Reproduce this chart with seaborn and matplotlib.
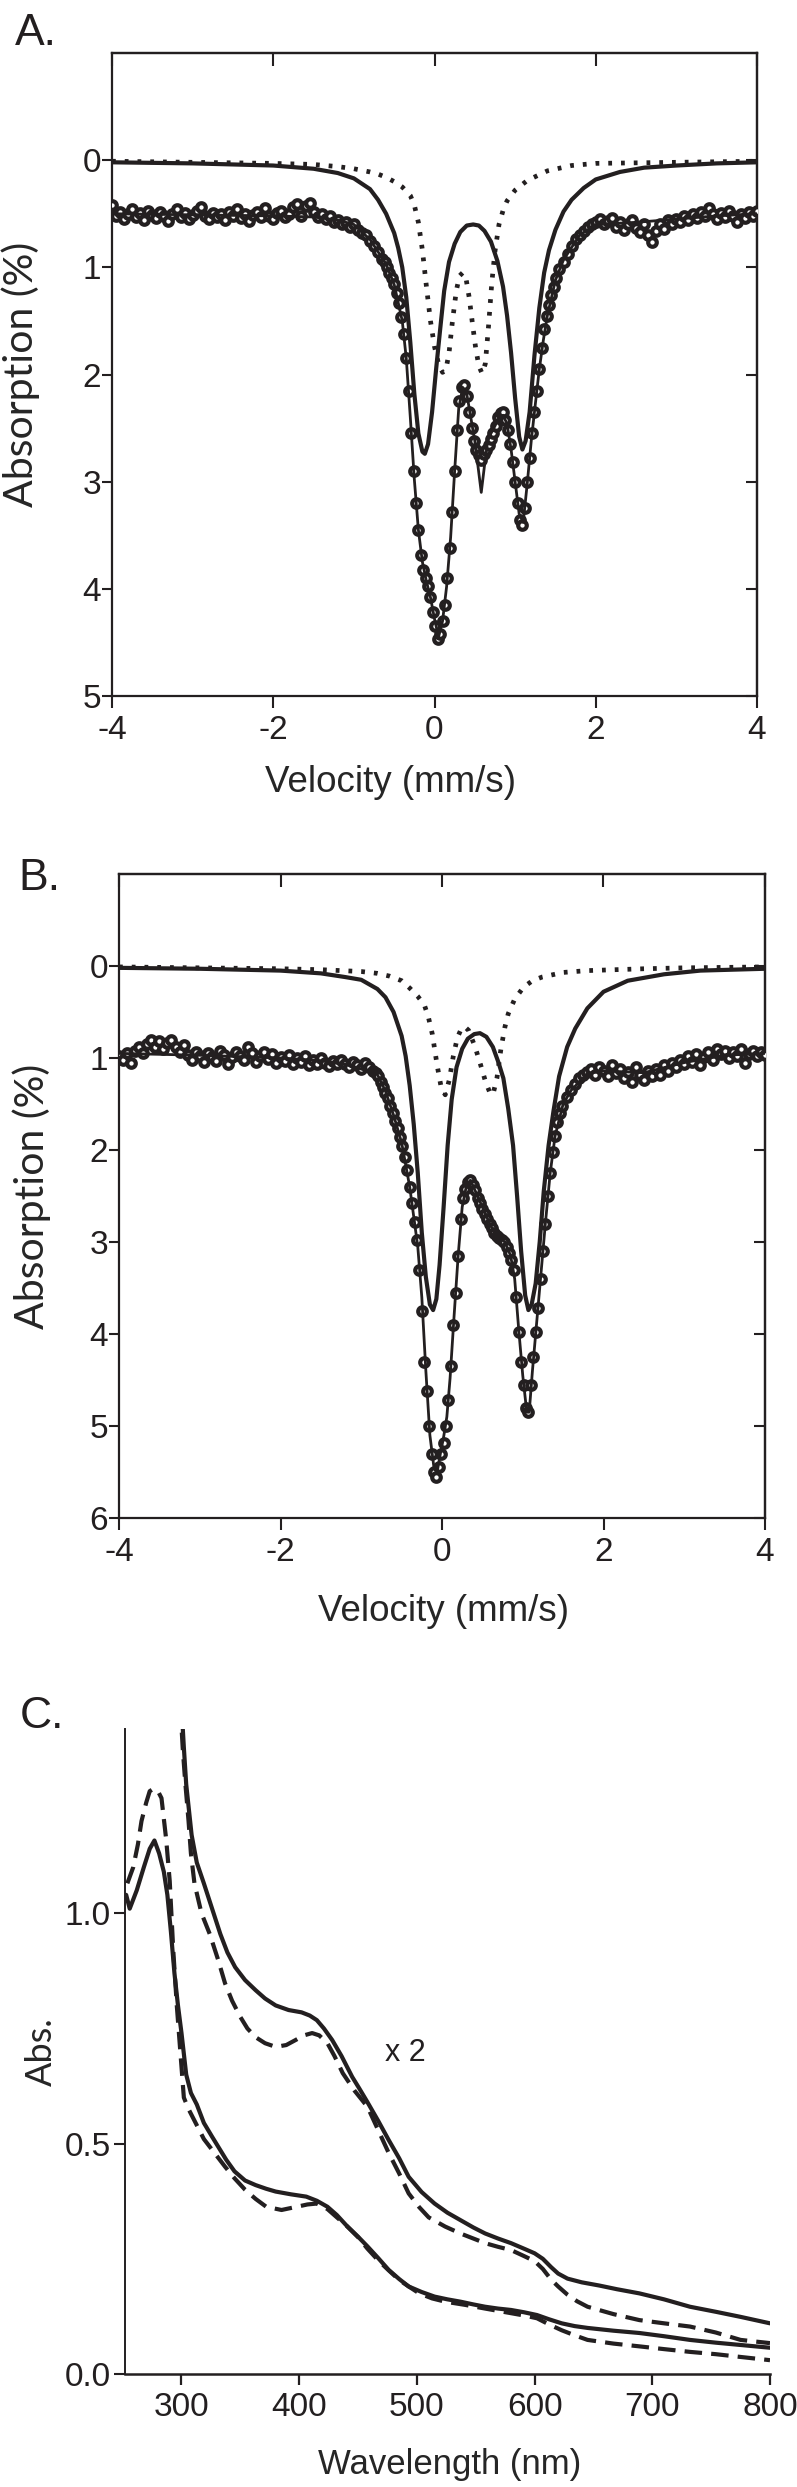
import numpy as np
import pandas as pd
import matplotlib
matplotlib.use("Agg")
import matplotlib.pyplot as plt
import seaborn as sns

# ---------------- Panel A data (Mossbauer) ----------------
vel_A = [-4.00, -3.95, -3.90, -3.85, -3.80, -3.75, -3.70, -3.65, -3.60, -3.55, -3.50, -3.45, -3.40, -3.35,
         -3.30, -3.25, -3.20, -3.15, -3.10, -3.05, -3.00, -2.95, -2.90, -2.85, -2.80, -2.75, -2.70, -2.65,
         -2.60, -2.55, -2.50, -2.45, -2.40, -2.35, -2.30, -2.25, -2.20, -2.15, -2.10, -2.05, -2.00, -1.95,
         -1.90, -1.85, -1.80, -1.75, -1.70, -1.65, -1.60, -1.55, -1.50, -1.45, -1.40, -1.35, -1.30, -1.25,
         -1.20, -1.15, -1.10, -1.05, -1.00, -0.95, -0.90, -0.85, -0.80, -0.75, -0.70, -0.65,
         -0.62, -0.59, -0.56, -0.53, -0.50, -0.47, -0.44, -0.41, -0.38, -0.35, -0.32, -0.29, -0.26, -0.23,
         -0.20, -0.17, -0.14, -0.11, -0.08, -0.05, -0.02, 0.01, 0.04, 0.07, 0.10, 0.13, 0.16, 0.19, 0.22,
         0.25, 0.28, 0.31, 0.34, 0.37, 0.40, 0.43, 0.46, 0.49, 0.52, 0.55, 0.58, 0.61, 0.64, 0.67, 0.70,
         0.73, 0.76, 0.79, 0.82, 0.85, 0.88, 0.91, 0.94, 0.97, 1.00, 1.03, 1.06, 1.09, 1.12, 1.15, 1.18,
         1.21, 1.24, 1.27, 1.30, 1.33, 1.36, 1.39, 1.42, 1.45, 1.48, 1.51,
         1.55, 1.60, 1.65, 1.70, 1.75, 1.80, 1.85, 1.90, 1.95, 2.00, 2.05, 2.10, 2.15, 2.20, 2.25, 2.30,
         2.35, 2.40, 2.45, 2.50, 2.55, 2.60, 2.65, 2.70, 2.75, 2.80, 2.85, 2.90, 2.95, 3.00, 3.05, 3.10,
         3.15, 3.20, 3.25, 3.30, 3.35, 3.40, 3.45, 3.50, 3.55, 3.60, 3.65, 3.70, 3.75, 3.80, 3.85, 3.90,
         3.95, 4.00]
abs_A = [0.42, 0.52, 0.48, 0.55, 0.50, 0.46, 0.53, 0.49, 0.56, 0.47, 0.51, 0.54, 0.48, 0.52,
         0.57, 0.50, 0.46, 0.53, 0.49, 0.55, 0.51, 0.47, 0.44, 0.52, 0.55, 0.49, 0.53, 0.50,
         0.56, 0.48, 0.52, 0.46, 0.54, 0.50, 0.57, 0.51, 0.48, 0.53, 0.45, 0.52, 0.55, 0.49,
         0.47, 0.53, 0.50, 0.44, 0.41, 0.52, 0.43, 0.40, 0.48, 0.53, 0.50, 0.55, 0.52, 0.58,
         0.56, 0.60, 0.58, 0.62, 0.60, 0.65, 0.68, 0.70, 0.75, 0.80, 0.86, 0.92,
         0.95, 1.00, 1.05, 1.10, 1.16, 1.24, 1.33, 1.46, 1.62, 1.85, 2.15, 2.55, 2.90, 3.20,
         3.45, 3.68, 3.82, 3.90, 3.97, 4.08, 4.22, 4.35, 4.47, 4.42, 4.30, 4.15, 3.90, 3.62, 3.28,
         2.90, 2.52, 2.25, 2.12, 2.10, 2.20, 2.35, 2.50, 2.62, 2.70, 2.75, 2.80, 2.74, 2.70, 2.66, 2.60,
         2.55, 2.48, 2.40, 2.36, 2.35, 2.42, 2.52, 2.65, 2.82, 3.00, 3.20, 3.36, 3.40, 3.25, 3.00, 2.78,
         2.55, 2.35, 2.15, 1.95, 1.75, 1.58, 1.45, 1.35, 1.26, 1.18, 1.10,
         1.02, 0.95, 0.88, 0.80, 0.74, 0.70, 0.66, 0.62, 0.60, 0.58, 0.55, 0.60, 0.57, 0.54, 0.62, 0.58,
         0.65, 0.60, 0.56, 0.63, 0.67, 0.60, 0.70, 0.76, 0.66, 0.60, 0.64, 0.56, 0.60, 0.55, 0.58, 0.52,
         0.56, 0.50, 0.54, 0.48, 0.52, 0.45, 0.50, 0.55, 0.49, 0.53, 0.47, 0.52, 0.58, 0.50, 0.54, 0.48,
         0.52, 0.47]

fitv_A = [-4.0, -3.0, -2.0, -1.5, -1.2, -1.0, -0.8, -0.6, -0.5, -0.4, -0.35, -0.3, -0.25, -0.2, -0.15,
          -0.1, -0.05, 0.0, 0.05, 0.1, 0.15, 0.2, 0.25, 0.3, 0.35, 0.4, 0.45, 0.5, 0.55, 0.58, 0.62, 0.66,
          0.7, 0.75, 0.8, 0.85, 0.9, 0.95, 1.0, 1.05, 1.1, 1.15, 1.2, 1.25, 1.3, 1.35, 1.4, 1.5, 1.6, 1.8,
          2.0, 2.5, 3.0, 3.5, 4.0]
fita_A = [0.50, 0.51, 0.52, 0.53, 0.56, 0.60, 0.74, 0.97, 1.16, 1.50, 1.85, 2.40, 2.98, 3.45, 3.75,
          3.93, 4.08, 4.28, 4.45, 4.30, 3.98, 3.52, 2.90, 2.32, 2.12, 2.18, 2.40, 2.62, 2.92, 3.10, 2.85, 2.62,
          2.55, 2.48, 2.40, 2.38, 2.46, 2.70, 3.00, 3.30, 3.38, 3.02, 2.62, 2.28, 1.95, 1.68, 1.45, 1.12, 0.93, 0.70,
          0.60, 0.58, 0.55, 0.52, 0.50]

solv_A = [-4.0, -3.0, -2.0, -1.5, -1.2, -1.0, -0.8, -0.7, -0.6, -0.5, -0.45, -0.4, -0.35, -0.3, -0.25,
          -0.2, -0.15, -0.12, -0.08, -0.03, 0.02, 0.07, 0.12, 0.18, 0.25, 0.32, 0.4, 0.48, 0.55, 0.62, 0.7,
          0.78, 0.85, 0.9, 0.95, 1.0, 1.05, 1.09, 1.13, 1.18, 1.24, 1.3, 1.36, 1.42, 1.5, 1.6, 1.7, 1.85, 2.0,
          2.3, 2.6, 3.0, 3.5, 4.0]
sola_A = [0.02, 0.03, 0.05, 0.08, 0.12, 0.17, 0.27, 0.37, 0.50, 0.68, 0.82, 1.00, 1.28, 1.70, 2.18,
          2.55, 2.72, 2.74, 2.65, 2.35, 1.95, 1.58, 1.22, 0.95, 0.78, 0.67, 0.61, 0.60, 0.61, 0.66, 0.76,
          0.94, 1.18, 1.45, 1.80, 2.22, 2.58, 2.70, 2.62, 2.35, 1.82, 1.38, 1.05, 0.84, 0.65, 0.48, 0.37, 0.26, 0.18,
          0.11, 0.07, 0.05, 0.03, 0.02]

dotv_A = [-4.0, -3.0, -2.0, -1.5, -1.2, -1.0, -0.8, -0.7, -0.6, -0.5, -0.4, -0.3, -0.25, -0.2, -0.15,
          -0.1, -0.05, 0.0, 0.05, 0.1, 0.14, 0.18, 0.22, 0.27, 0.31, 0.35, 0.39, 0.43, 0.47, 0.51, 0.55,
          0.59, 0.63, 0.67, 0.71, 0.75, 0.8, 0.85, 0.9, 1.0, 1.15, 1.4, 1.7, 2.0, 3.0, 4.0]
dota_A = [0.01, 0.02, 0.03, 0.04, 0.06, 0.08, 0.11, 0.13, 0.16, 0.20, 0.25, 0.33, 0.42, 0.58, 0.84,
          1.18, 1.50, 1.74, 1.90, 1.98, 1.96, 1.80, 1.52, 1.22, 1.08, 1.05, 1.10, 1.28, 1.52, 1.75, 1.92,
          1.99, 1.90, 1.55, 1.15, 0.85, 0.60, 0.47, 0.38, 0.28, 0.19, 0.10, 0.05, 0.03, 0.02, 0.01]

# ---------------- Panel B data (Mossbauer) ----------------
vel_B = [-4.00, -3.95, -3.90, -3.85, -3.80, -3.75, -3.70, -3.65, -3.60, -3.55, -3.50, -3.45, -3.40, -3.35,
         -3.30, -3.25, -3.20, -3.15, -3.10, -3.05, -3.00, -2.95, -2.90, -2.85, -2.80, -2.75, -2.70, -2.65,
         -2.60, -2.55, -2.50, -2.45, -2.40, -2.35, -2.30, -2.25, -2.20, -2.15, -2.10, -2.05, -2.00, -1.95,
         -1.90, -1.85, -1.80, -1.75, -1.70, -1.65, -1.60, -1.55, -1.50, -1.45, -1.40, -1.35, -1.30, -1.25,
         -1.20, -1.15, -1.10, -1.05, -1.00, -0.95, -0.90, -0.85,
         -0.82, -0.79, -0.76, -0.73, -0.70, -0.67, -0.64, -0.61, -0.58, -0.55, -0.52, -0.49, -0.46, -0.43,
         -0.40, -0.37, -0.34, -0.31, -0.28, -0.25, -0.22, -0.19, -0.16, -0.13, -0.10, -0.07, -0.04, -0.01,
         0.02, 0.05, 0.08, 0.11, 0.14, 0.17, 0.20, 0.23, 0.26, 0.29, 0.32, 0.35, 0.38, 0.41, 0.44, 0.47,
         0.50, 0.53, 0.56, 0.59, 0.62, 0.65, 0.68, 0.71, 0.74, 0.77, 0.80, 0.83, 0.86, 0.89, 0.92, 0.95,
         0.98, 1.01, 1.04, 1.07, 1.10, 1.13, 1.16, 1.19, 1.22, 1.25, 1.28, 1.31, 1.34, 1.37, 1.40, 1.43,
         1.46, 1.49,
         1.55, 1.60, 1.65, 1.70, 1.75, 1.80, 1.85, 1.90, 1.95, 2.00, 2.05, 2.10, 2.15, 2.20, 2.25, 2.30,
         2.35, 2.40, 2.45, 2.50, 2.55, 2.60, 2.65, 2.70, 2.75, 2.80, 2.85, 2.90, 2.95, 3.00, 3.05, 3.10,
         3.15, 3.20, 3.25, 3.30, 3.35, 3.40, 3.45, 3.50, 3.55, 3.60, 3.65, 3.70, 3.75, 3.80, 3.85, 3.90,
         3.95, 4.00]
abs_B = [0.98, 1.02, 0.95, 1.05, 0.92, 0.88, 0.95, 0.85, 0.80, 0.88, 0.82, 0.90, 0.84, 0.80,
         0.88, 0.93, 0.86, 0.97, 1.02, 0.94, 0.98, 1.04, 0.95, 0.99, 1.03, 0.92, 0.97, 1.06,
         0.99, 0.93, 0.98, 1.02, 0.88, 0.95, 1.04, 0.98, 0.93, 1.01, 0.96, 1.05, 0.99, 1.03,
         0.97, 1.06, 1.00, 1.04, 0.98, 1.08, 1.02, 1.06, 1.00, 1.05, 1.09, 1.03, 1.07, 1.02,
         1.06, 1.10, 1.04, 1.08, 1.12, 1.05, 1.10, 1.14,
         1.16, 1.20, 1.26, 1.32, 1.38, 1.44, 1.52, 1.60, 1.68, 1.76, 1.86, 1.96, 2.08, 2.22,
         2.40, 2.58, 2.78, 2.98, 3.30, 3.75, 4.30, 4.62, 5.00, 5.30, 5.50, 5.55, 5.45, 5.30,
         5.18, 5.00, 4.72, 4.35, 3.90, 3.55, 3.15, 2.75, 2.52, 2.42, 2.35, 2.33, 2.38, 2.44, 2.52, 2.58,
         2.64, 2.70, 2.75, 2.80, 2.85, 2.90, 2.94, 2.96, 2.98, 3.00, 3.05, 3.12, 3.20, 3.30, 3.60, 3.98,
         4.30, 4.55, 4.80, 4.85, 4.55, 4.25, 3.98, 3.72, 3.40, 3.10, 2.80, 2.50, 2.25, 2.02, 1.85, 1.70,
         1.60, 1.52,
         1.42, 1.35, 1.28, 1.22, 1.18, 1.15, 1.12, 1.18, 1.10, 1.14, 1.20, 1.08, 1.16, 1.12, 1.22, 1.15,
         1.26, 1.10, 1.18, 1.24, 1.14, 1.20, 1.12, 1.18, 1.08, 1.14, 1.05, 1.10, 1.02, 1.06, 0.98, 1.04,
         0.96, 1.08, 0.99, 0.94, 1.02, 0.90, 0.96, 0.92, 1.00, 0.94, 0.98, 0.90, 1.05, 0.96, 0.92, 0.98,
         0.94, 0.97]

fitv_B = [-4.0, -3.0, -2.0, -1.5, -1.2, -1.0, -0.8, -0.7, -0.6, -0.5, -0.4, -0.3, -0.25, -0.2, -0.15,
          -0.1, -0.06, -0.02, 0.02, 0.06, 0.1, 0.15, 0.2, 0.25, 0.3, 0.35, 0.4, 0.5, 0.6, 0.7, 0.78, 0.85,
          0.9, 0.95, 1.0, 1.05, 1.08, 1.12, 1.17, 1.22, 1.28, 1.34, 1.4, 1.5, 1.6, 1.8, 2.0, 2.5, 3.0, 3.5, 4.0]
fita_B = [0.95, 0.97, 1.00, 1.03, 1.07, 1.12, 1.18, 1.36, 1.62, 1.92, 2.40, 3.05, 3.60, 4.40, 5.10,
          5.45, 5.50, 5.30, 5.12, 4.90, 4.48, 3.80, 3.15, 2.62, 2.40, 2.33, 2.42, 2.62, 2.82, 2.95, 3.00, 3.15,
          3.40, 3.95, 4.45, 4.85, 4.85, 4.40, 3.90, 3.40, 2.80, 2.25, 1.85, 1.50, 1.35, 1.17, 1.14, 1.16, 1.05, 0.97, 0.95]

solv_B = [-4.0, -3.0, -2.0, -1.5, -1.2, -1.0, -0.8, -0.7, -0.6, -0.5, -0.45, -0.4, -0.35, -0.3, -0.25,
          -0.2, -0.15, -0.11, -0.07, -0.03, 0.02, 0.07, 0.12, 0.18, 0.25, 0.32, 0.4, 0.47, 0.55, 0.63, 0.7,
          0.76, 0.82, 0.88, 0.93, 0.98, 1.03, 1.07, 1.11, 1.16, 1.21, 1.26, 1.32, 1.38, 1.45, 1.55, 1.65,
          1.8, 2.0, 2.3, 2.75, 3.2, 4.0]
sola_B = [0.02, 0.03, 0.05, 0.08, 0.12, 0.15, 0.25, 0.34, 0.50, 0.76, 0.98, 1.30, 1.72, 2.25, 2.90,
          3.38, 3.68, 3.74, 3.62, 3.25, 2.62, 1.95, 1.45, 1.10, 0.90, 0.79, 0.74, 0.73, 0.77, 0.88, 1.05,
          1.22, 1.55, 1.95, 2.50, 3.10, 3.58, 3.74, 3.68, 3.45, 3.00, 2.45, 1.95, 1.58, 1.20, 0.88, 0.68,
          0.46, 0.28, 0.16, 0.09, 0.05, 0.03]

dotv_B = [-4.0, -3.0, -2.0, -1.5, -1.0, -0.8, -0.65, -0.5, -0.4, -0.3, -0.22, -0.17, -0.12, -0.06, -0.01,
          0.04, 0.09, 0.14, 0.19, 0.24, 0.28, 0.33, 0.41, 0.48, 0.54, 0.59, 0.63, 0.68, 0.73, 0.78, 0.82,
          0.9, 1.01, 1.12, 1.24, 1.5, 1.8, 2.5, 3.0, 4.0]
dota_B = [0.01, 0.02, 0.03, 0.04, 0.06, 0.08, 0.11, 0.16, 0.24, 0.33, 0.42, 0.55, 0.74, 1.08, 1.32,
          1.40, 1.24, 0.98, 0.78, 0.68, 0.66, 0.70, 0.88, 1.08, 1.26, 1.37, 1.40, 1.22, 0.90, 0.66, 0.52,
          0.36, 0.23, 0.16, 0.12, 0.07, 0.05, 0.03, 0.02, 0.01]

# ---------------- Panel C data (UV-vis) ----------------
wl_low_solid = [253, 256, 262, 268, 273, 277, 281, 285, 288, 291, 294, 297, 300, 304, 308, 313, 319, 326,
                332, 338, 345, 354, 363, 372, 380, 393, 406, 415, 424, 432, 441, 450, 458, 467, 476, 485,
                493, 504, 515, 526, 537, 548, 558, 569, 580, 591, 602, 612, 623, 634, 645, 667, 689, 710,
                732, 754, 775, 800]
ab_low_solid = [1.04, 1.01, 1.05, 1.10, 1.14, 1.158, 1.13, 1.09, 1.04, 0.96, 0.87, 0.80, 0.74, 0.65, 0.61,
                0.585, 0.545, 0.515, 0.49, 0.465, 0.44, 0.42, 0.41, 0.402, 0.396, 0.39, 0.385, 0.376, 0.363,
                0.345, 0.32, 0.298, 0.277, 0.252, 0.226, 0.206, 0.19, 0.178, 0.168, 0.162, 0.157, 0.151,
                0.146, 0.142, 0.139, 0.134, 0.128, 0.119, 0.110, 0.104, 0.100, 0.094, 0.089, 0.082, 0.074,
                0.068, 0.063, 0.057]

wl_low_dash = [254, 259, 263, 266, 270, 273, 276, 280, 283, 287, 290, 293, 296, 299, 302, 306, 311, 319,
               328, 337, 345, 354, 363, 372, 385, 398, 407, 415, 424, 432, 441, 450, 458, 467, 476, 485,
               493, 502, 513, 524, 541, 558, 569, 580, 591, 602, 612, 623, 634, 645, 667, 689, 710, 732,
               754, 775, 800]
ab_low_dash = [1.065, 1.10, 1.15, 1.20, 1.24, 1.265, 1.27, 1.265, 1.25, 1.16, 1.07, 0.92, 0.80, 0.70, 0.60,
               0.575, 0.55, 0.51, 0.48, 0.45, 0.425, 0.40, 0.38, 0.363, 0.356, 0.363, 0.368, 0.37, 0.358,
               0.34, 0.32, 0.297, 0.272, 0.247, 0.225, 0.204, 0.19, 0.175, 0.164, 0.157, 0.150, 0.142,
               0.137, 0.132, 0.127, 0.121, 0.108, 0.095, 0.084, 0.074, 0.066, 0.060, 0.054, 0.048, 0.043,
               0.037, 0.030]

wl_up_solid = [300, 302, 304, 306.5, 308.6, 313, 319, 326, 333, 339, 345.6, 354, 363, 371, 380, 391, 402,
               409, 415, 421, 428, 436, 445, 451, 458, 467, 476, 485, 493, 504, 515, 526, 537, 548, 558,
               569, 580, 591, 600, 607, 614, 620, 628, 640, 655, 670, 689, 710, 732, 754, 775, 800]
ab_up_solid = [1.45, 1.36, 1.28, 1.22, 1.17, 1.11, 1.065, 1.01, 0.955, 0.915, 0.883, 0.855, 0.833, 0.815,
               0.80, 0.79, 0.785, 0.778, 0.768, 0.75, 0.725, 0.69, 0.645, 0.62, 0.59, 0.55, 0.508, 0.468,
               0.428, 0.395, 0.37, 0.35, 0.334, 0.318, 0.305, 0.294, 0.284, 0.272, 0.262, 0.250, 0.232,
               0.218, 0.207, 0.199, 0.192, 0.184, 0.175, 0.162, 0.146, 0.135, 0.124, 0.11]

wl_up_dash = [299, 301, 303, 306, 308, 311, 317, 324, 331, 337, 343, 350, 356, 363, 371, 380, 389, 397,
              404, 411, 417, 424, 430, 437, 447, 458, 467, 476, 485, 493, 502, 510, 524, 537, 548, 558,
              569, 580, 591, 600, 607, 614, 620, 628, 636, 645, 667, 689, 710, 732, 754, 775, 800]
ab_up_dash = [1.45, 1.36, 1.29, 1.20, 1.13, 1.065, 1.00, 0.955, 0.90, 0.848, 0.81, 0.775, 0.75, 0.731,
              0.718, 0.71, 0.714, 0.725, 0.735, 0.74, 0.735, 0.718, 0.69, 0.653, 0.615, 0.58, 0.53, 0.48,
              0.435, 0.392, 0.362, 0.34, 0.32, 0.305, 0.294, 0.284, 0.276, 0.269, 0.256, 0.245, 0.228,
              0.205, 0.190, 0.172, 0.158, 0.146, 0.13, 0.117, 0.110, 0.103, 0.09, 0.074, 0.067]

vel_ticks = [-4, -2, 0, 2, 4]
absA_ticks = [0, 1, 2, 3, 4, 5]
absB_ticks = [0, 1, 2, 3, 4, 5, 6]
wl_ticks = [300, 400, 500, 600, 700, 800]
uv_ticks = [0.0, 0.5, 1.0]
uv_ticklabels = ["0.0", "0.5", "1.0"]

# ---------------- Styling ----------------
sns.set_theme(style="ticks")
plt.rcParams["font.family"] = ["Liberation Sans", "DejaVu Sans"]
plt.rcParams["axes.unicode_minus"] = False
INK = "#231f20"
plt.rcParams["text.color"] = INK
plt.rcParams["axes.edgecolor"] = INK
plt.rcParams["xtick.color"] = INK
plt.rcParams["ytick.color"] = INK
LABEL_FONT = ["Lato", "Open Sans", "DejaVu Sans"]
TICK_FS = 24

W, H = 797, 2487
fig = plt.figure(figsize=(W / 100, H / 100), dpi=100)


def px_axes(left, right, top, bottom):
    return fig.add_axes([left / W, 1 - bottom / H, (right - left) / W, (bottom - top) / H])


def moss_panel(ax, vel, dat, fv, fa, sv, sa, dv, da, yticks, ymax, xlab_x, xlab_y, ylab_x):
    sns.scatterplot(x=vel, y=dat, ax=ax, marker="o", s=38, color=INK, facecolor="white",
                    edgecolor=INK, linewidth=3.0, zorder=3, legend=False)
    sns.lineplot(x=fv, y=fa, ax=ax, color=INK, lw=2.0, zorder=4, sort=False, estimator=None)
    sns.lineplot(x=sv, y=sa, ax=ax, color=INK, lw=3.0, zorder=5, sort=False, estimator=None)
    sns.lineplot(x=dv, y=da, ax=ax, color=INK, lw=3.4, zorder=5, sort=False, estimator=None,
                 linestyle=(0, (0.8, 1.9)))
    ax.set_xlim(-4, 4)
    ax.set_ylim(ymax, -1)
    ax.set_xticks(vel_ticks)
    ax.set_yticks(yticks)
    ax.set_xticklabels([str(v) for v in vel_ticks])
    ax.set_yticklabels([str(v) for v in yticks])
    for sp in ax.spines.values():
        sp.set_visible(True)
        sp.set_linewidth(1.6)
        sp.set_color(INK)
    ax.tick_params(axis="x", direction="out", length=8.5, width=1.5, labelsize=TICK_FS, pad=5)
    ax.tick_params(axis="y", direction="out", length=7, width=1.5, labelsize=TICK_FS, pad=1)
    secx = ax.secondary_xaxis("top")
    secx.set_xticks(vel_ticks)
    secx.tick_params(direction="in", length=9, width=1.5, labeltop=False)
    secx.spines["top"].set_linewidth(1.6)
    secy = ax.secondary_yaxis("right")
    secy.set_yticks(yticks)
    secy.tick_params(direction="in", length=8, width=1.5, labelright=False)
    secy.spines["right"].set_linewidth(1.6)
    ax.set_xlabel("Velocity (mm/s)", fontsize=26.5)
    ax.xaxis.set_label_coords(xlab_x, xlab_y)
    ax.xaxis.label.set_va("top")
    ax.set_ylabel("Absorption (%)", fontsize=29.5, family=LABEL_FONT)
    ax.yaxis.set_label_coords(ylab_x, 0.5)


axA = px_axes(112, 757, 53, 696)
moss_panel(axA, vel_A, abs_A, fitv_A, fita_A, solv_A, sola_A, dotv_A, dota_A, absA_ticks, 5,
           0.432, -0.107, -0.112)

axB = px_axes(119, 765, 874, 1518)
moss_panel(axB, vel_B, abs_B, fitv_B, fita_B, solv_B, sola_B, dotv_B, dota_B, absB_ticks, 6,
           0.503, -0.118, -0.105)

# Panel C
axC = px_axes(125, 770, 1729, 2374)
sns.lineplot(x=wl_low_solid, y=ab_low_solid, ax=axC, color=INK, lw=3.0, sort=False, estimator=None)
sns.lineplot(x=wl_low_dash, y=ab_low_dash, ax=axC, color=INK, lw=3.0, sort=False, estimator=None,
             linestyle=(0, (4.2, 2.2)))
sns.lineplot(x=wl_up_solid, y=ab_up_solid, ax=axC, color=INK, lw=3.0, sort=False, estimator=None)
sns.lineplot(x=wl_up_dash, y=ab_up_dash, ax=axC, color=INK, lw=3.0, sort=False, estimator=None,
             linestyle=(0, (4.2, 2.2)))
axC.set_xlim(252, 800)
axC.set_ylim(0, 1.4)
axC.set_xticks(wl_ticks)
axC.set_xticklabels([str(v) for v in wl_ticks])
axC.set_yticks(uv_ticks)
axC.set_yticklabels(uv_ticklabels)
sns.despine(ax=axC)
axC.spines["left"].set_linewidth(1.4)
axC.spines["bottom"].set_linewidth(1.8)
axC.tick_params(axis="x", direction="out", length=8, width=1.6, labelsize=TICK_FS, pad=5)
axC.tick_params(axis="y", direction="out", length=8, width=1.5, labelsize=TICK_FS, pad=2)
axC.text(490, 0.696, "x 2", fontsize=22, ha="center", va="center")
axC.set_xlabel("Wavelength (nm)", fontsize=25)
axC.xaxis.set_label_coords(0.504, -0.114)
axC.xaxis.label.set_va("top")
axC.set_ylabel("Abs.", fontsize=26, family=LABEL_FONT)
axC.yaxis.set_label_coords(-0.104, 0.5)

# Panel letters
fig.text(15 / W, 1 - 45 / H, "A.", fontsize=32, va="baseline", ha="left")
fig.text(18 / W, 1 - 890 / H, "B.", fontsize=32, va="baseline", ha="left")
fig.text(20 / W, 1 - 1728 / H, "C.", fontsize=32, va="baseline", ha="left")

fig.savefig("out.png", dpi=100)
